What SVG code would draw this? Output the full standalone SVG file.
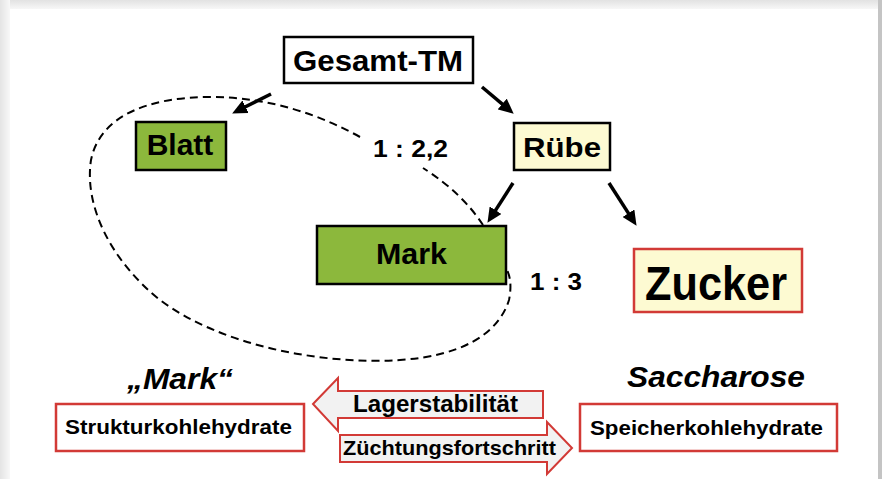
<svg xmlns="http://www.w3.org/2000/svg" width="882" height="479" viewBox="0 0 882 479">
<defs>
<marker id="ah" markerUnits="userSpaceOnUse" markerWidth="16" markerHeight="14" refX="4" refY="7" orient="auto">
<path d="M0,0 L15,7 L0,14 z" fill="#000"/>
</marker>
<linearGradient id="topg" x1="0" y1="0" x2="0" y2="1"><stop offset="0" stop-color="#e2e2e2"/><stop offset="1" stop-color="#f7f7f7"/></linearGradient>
<linearGradient id="leftg" x1="0" y1="0" x2="1" y2="0"><stop offset="0" stop-color="#e4e4e4"/><stop offset="1" stop-color="#f8f8f8"/></linearGradient>
</defs>
<style>
text{font-family:"Liberation Sans",Arial,sans-serif;font-weight:bold;fill:#000}
.blk{stroke:#000;stroke-width:2.5}
.red{fill:#fff;stroke:#d23a36;stroke-width:2.5}
.green{fill:#8cb83c}
.yel{fill:#fdfad2}
.con{stroke:#000;stroke-width:3.5;fill:none;marker-end:url(#ah)}
.dash{stroke:#000;stroke-width:2;fill:none;stroke-dasharray:8 5}
.fat{fill:#f2f2f2;stroke:#d23a36;stroke-width:2}
.it{font-style:italic}
</style>
<rect x="0" y="0" width="882" height="479" fill="#fff"/>
<rect x="0" y="0" width="882" height="9" fill="url(#topg)"/>
<rect x="0" y="0" width="10" height="479" fill="url(#leftg)"/>
<rect x="878" y="0" width="4" height="479" fill="#c4c4c4"/>

<g id="connectors">
<line class="con" x1="271" y1="94" x2="242" y2="108.5"/>
<line class="con" x1="482" y1="87" x2="505.3" y2="106.6"/>
<line class="con" x1="513" y1="183" x2="493.4" y2="213.6"/>
<line class="con" x1="609" y1="183" x2="630.6" y2="216.6"/>
<path class="dash" d="M483,225 C470,205 450,185 423,168"/>
<path class="dash" d="M360,137 C320,115 270,97 210,97 C150,97 100,115 91,160 C84,205 110,260 160,300 C220,345 320,365 400,360 C460,356 498,335 509,300 C512,285 510,275 506,268"/>
</g>

<g id="gesamt">
<rect x="284" y="37" width="189" height="46" fill="#fff" class="blk"/>
<text x="378" y="71" font-size="30" text-anchor="middle" textLength="170" lengthAdjust="spacingAndGlyphs">Gesamt-TM</text>
</g>
<g id="blatt">
<rect x="136" y="122" width="90" height="48" class="green blk"/>
<text x="180" y="155" font-size="30" text-anchor="middle">Blatt</text>
</g>
<g id="ruebe">
<rect x="514" y="123" width="96" height="47" class="yel blk"/>
<text x="562" y="157" font-size="28" text-anchor="middle" textLength="78" lengthAdjust="spacingAndGlyphs">Rübe</text>
</g>
<g id="mark">
<rect x="317" y="226" width="189" height="58" class="green blk"/>
<text x="411.5" y="264" font-size="29" text-anchor="middle" textLength="71" lengthAdjust="spacingAndGlyphs">Mark</text>
</g>
<g id="zucker">
<rect x="634" y="249" width="168" height="63" class="yel" stroke="#d23a36" stroke-width="2.5"/>
<text x="716" y="300" font-size="49" text-anchor="middle" textLength="142" lengthAdjust="spacingAndGlyphs">Zucker</text>
</g>
<g id="ratio1">
<text x="373" y="157" font-size="24" textLength="75" lengthAdjust="spacingAndGlyphs">1 : 2,2</text>
</g>
<g id="ratio2">
<text x="530" y="290" font-size="24" textLength="52" lengthAdjust="spacingAndGlyphs">1 : 3</text>
</g>
<g id="mark-label">
<text x="127" y="389" font-size="29" class="it" textLength="106" lengthAdjust="spacingAndGlyphs">„Mark“</text>
</g>
<g id="saccharose-label">
<text x="627" y="387" font-size="30" class="it" textLength="178" lengthAdjust="spacingAndGlyphs">Saccharose</text>
</g>
<g id="struktur">
<rect x="56" y="404" width="248" height="47" class="red"/>
<text x="65" y="434" font-size="21" textLength="227" lengthAdjust="spacingAndGlyphs">Strukturkohlehydrate</text>
</g>
<g id="speicher">
<rect x="580" y="404" width="257" height="47" class="red"/>
<text x="590" y="435" font-size="21" textLength="233" lengthAdjust="spacingAndGlyphs">Speicherkohlehydrate</text>
</g>
<g id="lager">
<polygon class="fat" points="313,404 338,378 338,391 543,391 543,418 338,418 338,431"/>
<text x="353" y="412" font-size="23" textLength="165" lengthAdjust="spacingAndGlyphs">Lagerstabilität</text>
</g>
<g id="zuechtung">
<polygon class="fat" points="340,435 547,435 547,422 572,448 547,474 547,462 340,462"/>
<text x="343" y="455" font-size="21" textLength="213" lengthAdjust="spacingAndGlyphs">Züchtungsfortschritt</text>
</g>
</svg>
